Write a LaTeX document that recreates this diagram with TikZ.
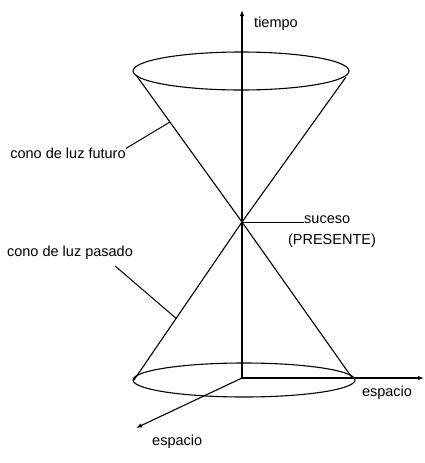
\documentclass[tikz,border=0pt]{standalone}
\usepackage{fontspec}
\setmainfont{Liberation Sans}
\usetikzlibrary{arrows.meta,calc}
\tikzset{
  coneline/.style={line width=1.1pt},
  axisline/.style={line width=1.1pt, -{Latex[length=6pt,width=4.5pt]}},
  leader/.style={line width=1pt},
  lbl/.style={font=\fontsize{14.5}{16}\selectfont, inner sep=0pt},
}

\begin{document}
\begin{tikzpicture}[x=1pt,y=-1pt]
  \useasboundingbox (0,0) rectangle (425,463);
  % event and axes
  \coordinate (apex) at (242,222);
  \coordinate (origin) at (242,378);
  \coordinate (ttip) at (242,10);
  \coordinate (xtip) at (424,378);
  \coordinate (ytip) at (136,428);
  \draw[axisline] (origin) -- (ttip);
  \draw[axisline] (origin) -- (xtip);
  \draw[axisline] (origin) -- (ytip);
  \node[lbl] (tiempo) at (276,24) {tiempo};
  \node[lbl] (espx) at (387,393) {espacio};
  \node[lbl, anchor=west] (espy) at (152,442) {espacio};

  % cones
  \draw[coneline] (241,71) ellipse [x radius=108pt, y radius=19pt];
  \draw[coneline] (244,380) ellipse [x radius=111pt, y radius=17pt];
  \coordinate (tl) at (136,75);
  \coordinate (tr) at (346,77);
  \coordinate (bl) at (134,380);
  \coordinate (br) at (353,379);
  \draw[coneline] (tl) -- (apex) -- (br);
  \draw[coneline] (tr) -- (apex) -- (bl);

  % labels
  \node[lbl] (futuro) at (68,153) {cono de luz futuro};
  \node[lbl] (pasado) at (70,253) {cono de luz pasado};
  \node[lbl, anchor=west] (suceso) at (304,220) {suceso};
  \node[lbl] (presente) at (332,241) {(PRESENTE)};
  \draw[leader] (futuro.north east) ++(0,1) -- ($(tl)!0.32!(apex)$);
  \draw[leader] (pasado.south east) ++(-18,6) -- ($(apex)!0.61!(bl)$);
  \draw[leader] (apex) -- (suceso.west |- apex);
\end{tikzpicture}
\end{document}
